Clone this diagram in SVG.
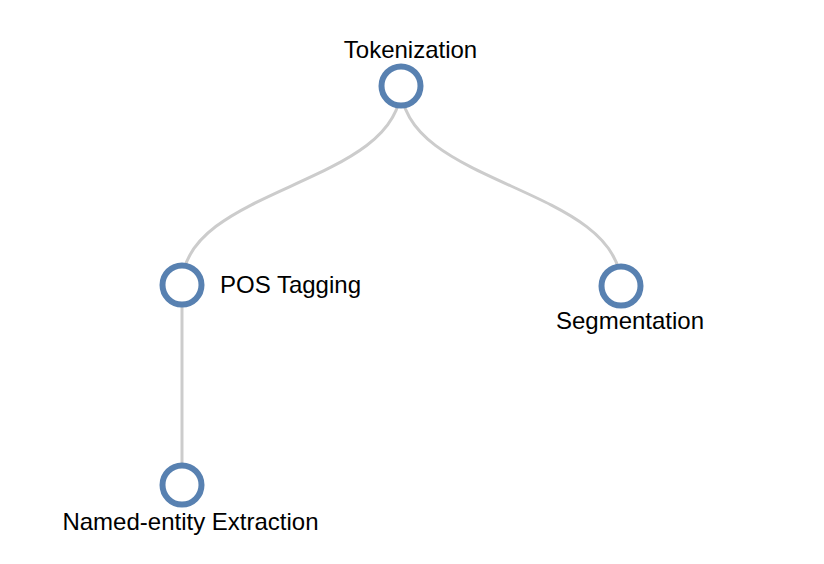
<svg xmlns="http://www.w3.org/2000/svg" width="824" height="564" viewBox="0 0 824 564">
<style>
.link{fill:none;stroke:#cccccc;stroke-width:3}
.node circle{fill:#ffffff;stroke:#5881b1;stroke-width:6}
.node text{font-family:"Liberation Sans",Arial,sans-serif;font-size:24px;fill:#000}
</style>
<rect width="824" height="564" fill="#ffffff"/>
<g id="links">
<path class="link" d="M401,86 C401,186 182,186 182,285"/>
<path class="link" d="M401,86 C401,186 621,186 621,286"/>
<path class="link" d="M182,285 L182,485"/>
</g>
<g id="node-tokenization" class="node">
<circle cx="401" cy="86" r="19.5"/>
<text x="410.5" y="58" text-anchor="middle">Tokenization</text>
</g>
<g id="node-pos" class="node">
<circle cx="182" cy="285" r="19.5"/>
<text x="220" y="293">POS Tagging</text>
</g>
<g id="node-segmentation" class="node">
<circle cx="621" cy="286" r="19.5"/>
<text x="630" y="329" text-anchor="middle">Segmentation</text>
</g>
<g id="node-ner" class="node">
<circle cx="182" cy="485" r="19.5"/>
<text x="190.5" y="530" text-anchor="middle">Named-entity Extraction</text>
</g>
</svg>
